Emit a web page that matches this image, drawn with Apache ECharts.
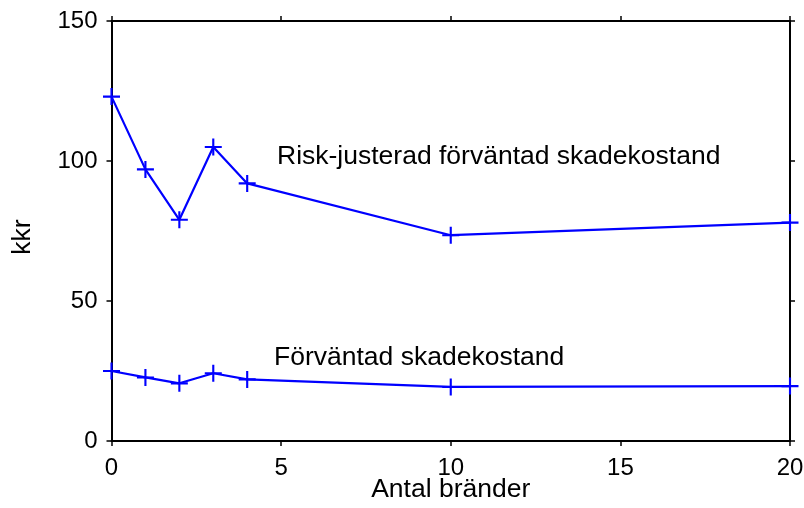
<!DOCTYPE html>
<html>
<head>
<meta charset="utf-8">
<script src="https://cdn.jsdelivr.net/npm/echarts@6/dist/echarts.min.js"></script>
<style>html,body{margin:0;padding:0;background:#fff}#c{width:804px;height:508px}</style>
</head>
<body>
<div id="c"></div>
<script>
var antalBrander = [0, 1, 2, 3, 4, 10, 20];
var riskJusterad = [123, 97, 79, 105, 92, 73.5, 78];
var forvantad = [25, 22.7, 20.6, 24.2, 22, 19.3, 19.6];
var xTicks = [0, 5, 10, 15, 20];
var yTicks = [0, 50, 100, 150];

function pairs(xs, ys) { return xs.map(function (x, i) { return [x, ys[i]]; }); }

var chart = echarts.init(document.getElementById('c'), null, { renderer: 'canvas' });
var font = 'Liberation Sans, Arial, sans-serif';
var plus = 'path://M-8,-1H8V1H-8Z M-1,-8H1V8H-1Z';
var axisLine = { show: true, onZero: false, lineStyle: { color: '#000', width: 2 } };
var tick = { show: true, inside: false, length: 5, lineStyle: { color: '#000', width: 1.5 } };

chart.setOption({
  animation: false,
  backgroundColor: '#fff',
  grid: { left: 111.5, right: 14, top: 21, bottom: 67, containLabel: false, outerBoundsMode: 'none' },
  xAxis: [{
    type: 'value', min: 0, max: 20, interval: 5, position: 'bottom',
    axisLine: axisLine, axisTick: tick, splitLine: { show: false },
    axisLabel: { color: '#000', fontSize: 24, fontFamily: font, margin: 15 },
    name: 'Antal bränder', nameLocation: 'middle', nameGap: 35.5, nameMoveOverlap: false,
    nameTextStyle: { color: '#000', fontSize: 26.5, fontFamily: font }
  }, {
    type: 'value', min: 0, max: 20, interval: 5, position: 'top',
    axisLine: axisLine, axisTick: tick, splitLine: { show: false },
    axisLabel: { show: false }
  }],
  yAxis: [{
    type: 'value', min: 0, max: 150, interval: 50, position: 'left',
    axisLine: axisLine, axisTick: tick, splitLine: { show: false },
    axisLabel: { color: '#000', fontSize: 24, fontFamily: font, margin: 14 }
  }, {
    type: 'value', min: 0, max: 150, interval: 50, position: 'right',
    axisLine: axisLine, axisTick: tick, splitLine: { show: false },
    axisLabel: { show: false }
  }],
  series: [{
    type: 'line', data: pairs(antalBrander, riskJusterad),
    symbol: plus, symbolSize: 17, showAllSymbol: true,
    lineStyle: { color: '#0000ff', width: 2.2 }, itemStyle: { color: '#0000ff' }
  }, {
    type: 'line', data: pairs(antalBrander, forvantad),
    symbol: plus, symbolSize: 17, showAllSymbol: true,
    lineStyle: { color: '#0000ff', width: 2.2 }, itemStyle: { color: '#0000ff' }
  }],
  graphic: [{
    type: 'text', x: 277, y: 157,
    style: { text: 'Risk-justerad förväntad skadekostand', font: '26.5px ' + font, fill: '#000', textVerticalAlign: 'middle' }
  }, {
    type: 'text', x: 274, y: 358,
    style: { text: 'Förväntad skadekostand', font: '26.5px ' + font, fill: '#000', textVerticalAlign: 'middle' }
  }, {
    type: 'text', x: 23, y: 237, rotation: Math.PI / 2,
    style: { text: 'kkr', font: '26.5px ' + font, fill: '#000', textAlign: 'center', textVerticalAlign: 'middle' }
  }]
});
</script>
</body>
</html>
